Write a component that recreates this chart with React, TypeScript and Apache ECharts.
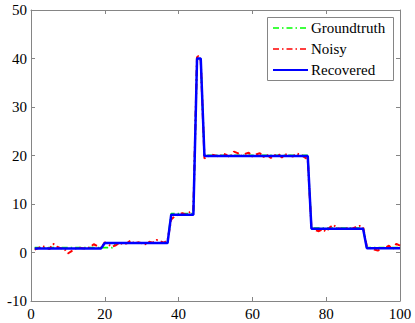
import React, { useEffect, useRef } from "react";
import * as echarts from "echarts";

const xValues: number[] = Array.from({ length: 100 }, (_, i) => i + 1);

const groundtruth: number[] = [
  1, 1, 1, 1, 1, 1, 1, 1, 1, 1,
  1, 1, 1, 1, 1, 1, 1, 1, 1, 1,
  1, 1, 2, 2, 2, 2, 2, 2, 2, 2,
  2, 2, 2, 2, 2, 2, 2, 8, 8, 8,
  8, 8, 8, 8, 40, 40, 20, 20, 20, 20,
  20, 20, 20, 20, 20, 20, 20, 20, 20, 20,
  20, 20, 20, 20, 20, 20, 20, 20, 20, 20,
  20, 20, 20, 20, 20, 5, 5, 5, 5, 5,
  5, 5, 5, 5, 5, 5, 5, 5, 5, 5,
  1, 1, 1, 1, 1, 1, 1, 1, 1, 1,
];

const noisy: number[] = [
  0.6, 0.9, 1.3, 1.1, 0.7, 1.8, 1.2, 0.9, 0.8, -0.2,
  0.3, 0.8, 1.0, 0.9, 0.8, 1.1, 1.7, 1.3, 0.9, 2.1,
  1.6, 1.2, 1.5, 2.0, 1.7, 1.9, 2.5, 1.8, 2.1, 1.9,
  1.7, 2.2, 2.0, 2.6, 2.3, 2.0, 2.5, 6.8, 7.5, 7.9,
  8.1, 7.8, 8.3, 8.7, 40.8, 39.6, 19.4, 19.8, 20.2, 20.0,
  19.7, 20.4, 20.1, 19.6, 20.8, 20.5, 19.9, 20.3, 20.6, 19.8,
  20.2, 20.5, 19.7, 20.1, 19.5, 20.0, 20.3, 19.6, 20.2, 20.0,
  19.8, 20.4, 20.2, 19.7, 19.2, 5.1, 4.6, 4.4, 4.8, 4.3,
  5.2, 5.7, 5.0, 4.9, 4.8, 5.1, 4.9, 5.2, 5.5, 5.2,
  1.3, 0.9, 0.6, 0.4, 0.9, 1.0, 1.4, 0.6, 1.8, 1.4,
];

const recovered: number[] = [
  0.85, 0.85, 0.85, 0.85, 0.85, 0.85, 0.85, 0.85, 0.85, 0.85,
  0.85, 0.85, 0.85, 0.85, 0.85, 0.85, 0.85, 0.85, 0.85, 1.95,
  1.95, 1.95, 1.95, 1.95, 1.95, 1.95, 1.95, 1.95, 1.95, 1.95,
  1.95, 1.95, 1.95, 1.95, 1.95, 1.95, 1.95, 7.8, 7.8, 7.8,
  7.8, 7.8, 7.8, 7.8, 40, 40, 19.9, 19.9, 19.9, 19.9,
  19.9, 19.9, 19.9, 19.9, 19.9, 19.9, 19.9, 19.9, 19.9, 19.9,
  19.9, 19.9, 19.9, 19.9, 19.9, 19.9, 19.9, 19.9, 19.9, 19.9,
  19.9, 19.9, 19.9, 19.9, 19.9, 4.9, 4.9, 4.9, 4.9, 4.9,
  4.9, 4.9, 4.9, 4.9, 4.9, 4.9, 4.9, 4.9, 4.9, 4.9,
  0.9, 0.9, 0.9, 0.9, 0.9, 0.9, 0.9, 0.9, 0.9, 0.9,
];

const seriesNames: string[] = ["Groundtruth", "Noisy", "Recovered"];
const xTicks = { min: 0, max: 100, interval: 20 };
const yTicks = { min: -10, max: 50, interval: 10 };

const FONT = "Liberation Serif";
const AXIS_GRAY = "#858585";
const DASHDOT = [6, 3, 1.5, 3];

export default function App() {
  const ref = useRef<HTMLDivElement>(null);
  useEffect(() => {
    if (!ref.current) return;
    const chart = echarts.init(ref.current, undefined, { renderer: "svg" });
    const pairs = (ys: number[]) => xValues.map((x, i) => [x, ys[i]]);
    const baseAxis = {
      axisLine: { show: true, onZero: false, lineStyle: { color: AXIS_GRAY, width: 1 } },
      axisTick: { show: true, inside: true, length: 4, lineStyle: { color: AXIS_GRAY } },
      splitLine: { show: false },
    };
    const label = { color: "#000", fontFamily: FONT, fontSize: 15, fontStyle: "normal" };
    const legendRows = [
      { name: seriesNames[0], color: "#00ff00", dash: DASHDOT, width: 1.5 },
      { name: seriesNames[1], color: "#ff0000", dash: DASHDOT, width: 1.5 },
      { name: seriesNames[2], color: "#0000ff", dash: null, width: 2 },
    ];
    const legendGraphics: any[] = [
      {
        type: "rect",
        shape: { x: 267.5, y: 17.5, width: 126, height: 63 },
        style: { fill: "#fff", stroke: AXIS_GRAY, lineWidth: 1 },
        z: 100,
      },
    ];
    legendRows.forEach((r, i) => {
      const y = 28 + i * 21;
      legendGraphics.push({
        type: "line",
        shape: { x1: 273, y1: y, x2: 308, y2: y },
        style: { stroke: r.color, lineWidth: r.width, lineDash: r.dash || undefined },
        z: 101,
      });
      legendGraphics.push({
        type: "text",
        x: 311,
        y: y,
        style: {
          text: r.name,
          fill: "#000",
          font: "15px \"Liberation Serif\"",
          verticalAlign: "middle",
        },
        z: 101,
      });
    });
    chart.setOption({
      animation: false,
      backgroundColor: "#fff",
      textStyle: { fontFamily: FONT },
      grid: { left: 31, top: 10, right: 15, bottom: 22, containLabel: false },
      xAxis: [
        { type: "value", ...xTicks, position: "bottom", ...baseAxis, axisLabel: { ...label, margin: 5 } },
        { type: "value", ...xTicks, position: "top", ...baseAxis, axisLabel: { show: false } },
      ],
      yAxis: [
        { type: "value", ...yTicks, position: "left", ...baseAxis, axisLabel: { ...label, margin: 4 } },
        { type: "value", ...yTicks, position: "right", ...baseAxis, axisLabel: { show: false } },
      ],
      series: [
        {
          name: seriesNames[0],
          type: "line",
          data: pairs(groundtruth),
          showSymbol: false,
          symbol: "none",
          lineStyle: { color: "#00ff00", width: 1.8, type: DASHDOT },
          z: 2,
        },
        {
          name: seriesNames[1],
          type: "line",
          data: pairs(noisy),
          showSymbol: false,
          symbol: "none",
          lineStyle: { color: "#ff0000", width: 2, type: DASHDOT },
          z: 3,
        },
        {
          name: seriesNames[2],
          type: "line",
          data: pairs(recovered),
          showSymbol: false,
          symbol: "none",
          lineStyle: { color: "#0000ff", width: 2.5 },
          z: 4,
        },
      ],
      graphic: legendGraphics,
    });
    return () => chart.dispose();
  }, []);
  return (
    <div
      ref={ref}
      style={{ position: "fixed", left: 0, top: 0, width: 415, height: 323, background: "#fff", fontFamily: "Liberation Serif" }}
    />
  );
}
